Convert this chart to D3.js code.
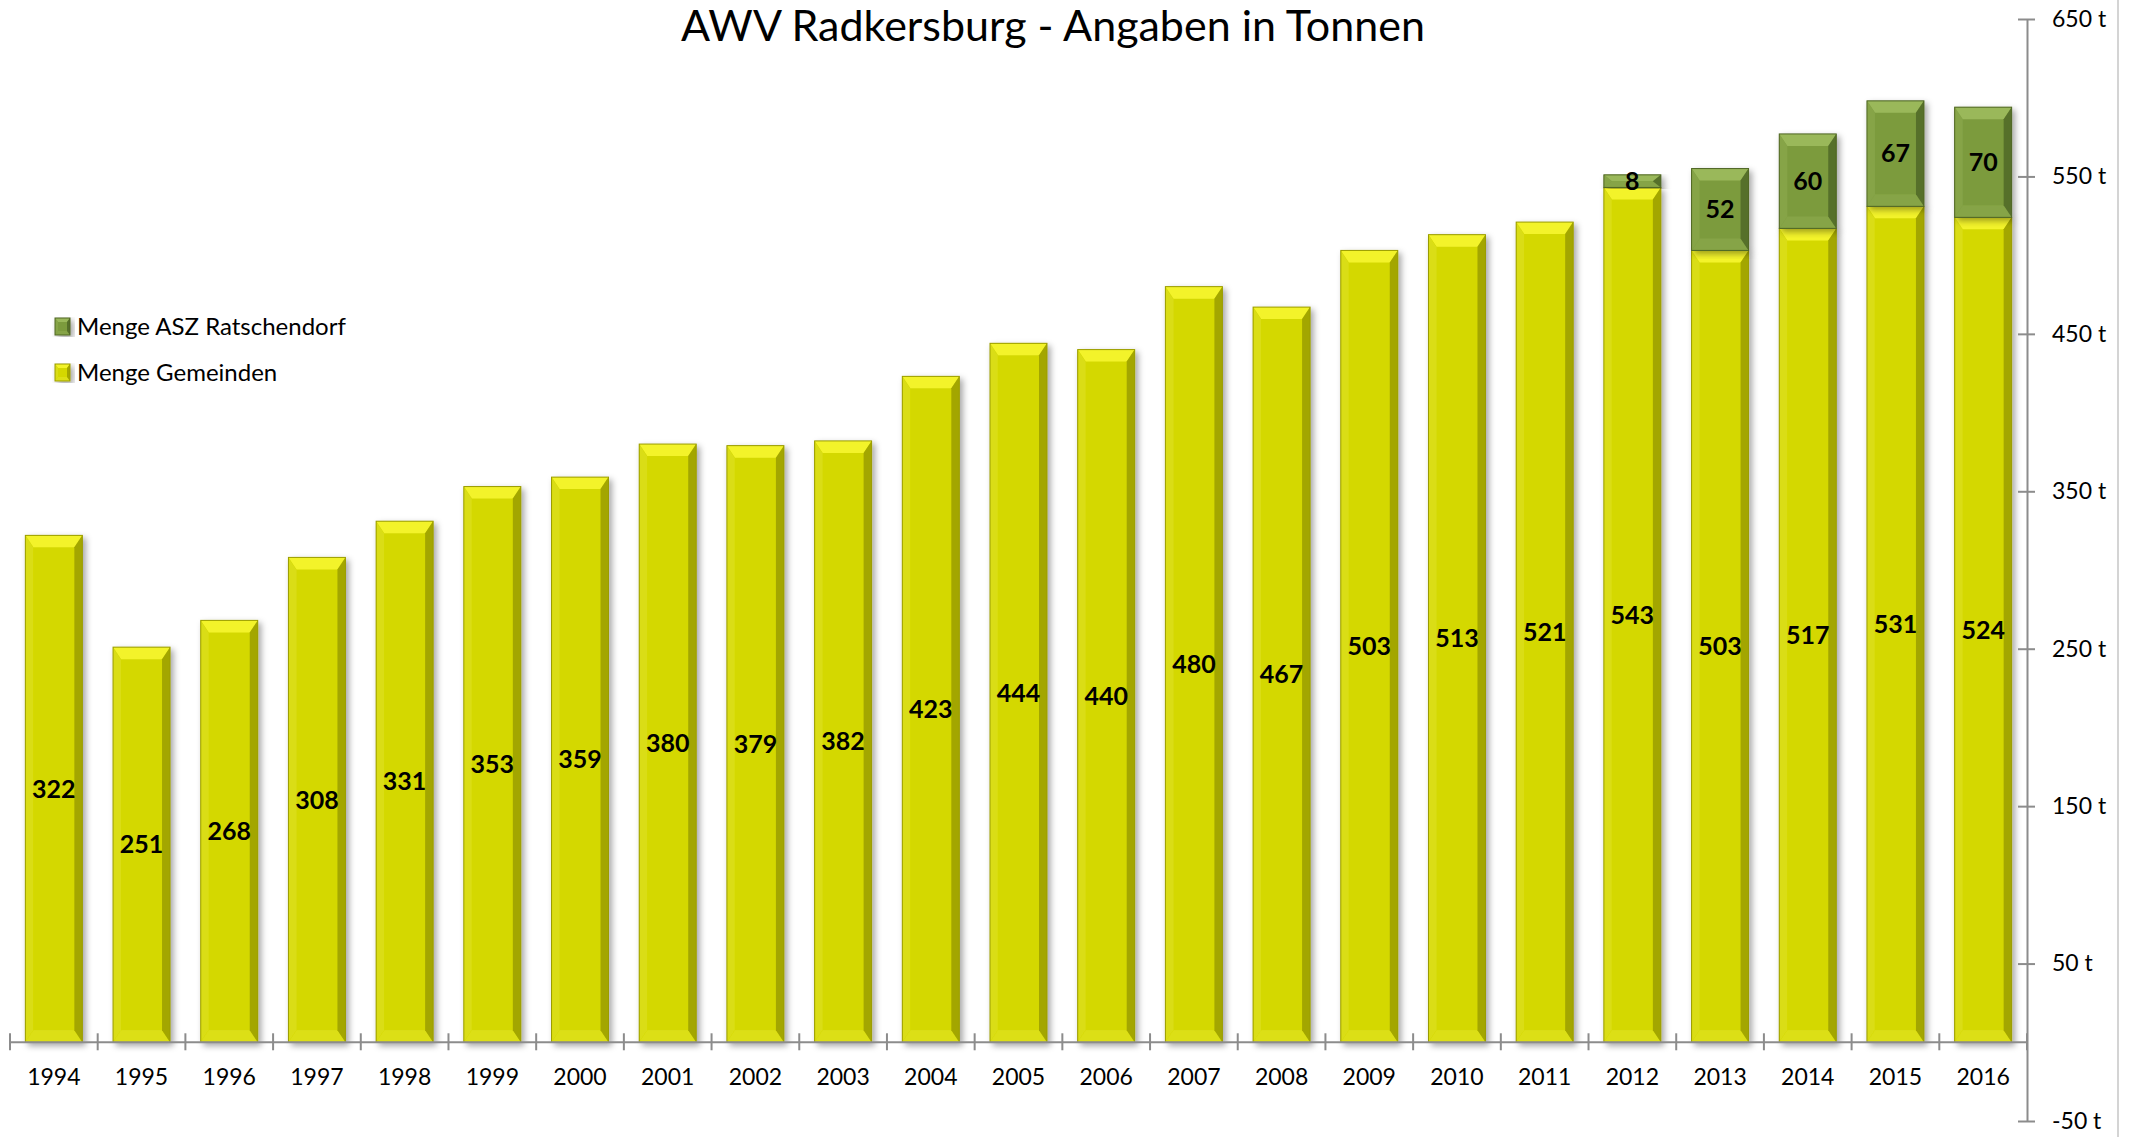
<!DOCTYPE html>
<html lang="de">
<head>
<meta charset="UTF-8">
<title>AWV Radkersburg</title>
<style>
  body { margin: 0; background: #fff; font-family: Lato, "Open Sans", sans-serif; }
  .y-axis text { font-size: 23px; fill: #000; }
  .x-label { font-size: 23px; }
  .value-label { font-size: 25px; font-weight: bold; }
</style>
<script src="https://d3js.org/d3.v7.min.js"></script>
</head>
<body>
<svg id="chart"></svg>
<script>
  // data
  const years = ["1994","1995","1996","1997","1998","1999","2000","2001","2002","2003","2004","2005",
                 "2006","2007","2008","2009","2010","2011","2012","2013","2014","2015","2016"];
  const gemeinden = [322,251,268,308,331,353,359,380,379,382,423,444,440,480,467,503,513,521,543,503,517,531,524];
  const asz = [0,0,0,0,0,0,0,0,0,0,0,0,0,0,0,0,0,0,8,52,60,67,70];
  const seriesKeys = ["gemeinden", "asz"];
  const seriesNames = { gemeinden: "Menge Gemeinden", asz: "Menge ASZ Ratschendorf" };
  const yTicks = [-50,50,150,250,350,450,550,650];

  const W = 2133, H = 1137;
  const plot = { left: 10, right: 2027 };

  // bevel colours: main, top, bottom, left, right, stroke
  const palette = {
    gemeinden: { main: "#d4d800", top: "#f3f32c", bottom: "#dcdf18", left: "#dadd12", right: "#a3a600", stroke: "#9a9c00" },
    asz:       { main: "#7c9b3e", top: "#9ab85a", bottom: "#86a446", left: "#86a447", right: "#566f2a", stroke: "#4f6624" }
  };

  const svg = d3.select("#chart").attr("width", W).attr("height", H);

  const defs = svg.append("defs");
  const f = defs.append("filter").attr("id", "shadow")
    .attr("x", "-20%").attr("y", "-5%").attr("width", "150%").attr("height", "115%");
  f.append("feDropShadow").attr("dx", 3).attr("dy", 3).attr("stdDeviation", 3)
    .attr("flood-color", "#000").attr("flood-opacity", 0.35);

  const x = d3.scaleBand().domain(years).range([plot.left, plot.right])
    .paddingInner(0.35).paddingOuter(0.175);
  const y = d3.scaleLinear().domain([-50, 650]).range([1121, 19]);

  const table = years.map((yr, i) => ({ year: yr, gemeinden: gemeinden[i], asz: asz[i] }));
  const stacked = d3.stack().keys(seriesKeys)(table);

  // outer border on the right
  svg.append("line").attr("x1", 2118).attr("x2", 2118).attr("y1", 0).attr("y2", H)
    .attr("stroke", "#c6c6c6").attr("stroke-width", 1.5);

  function bevelBar(g, x0, y0, w, h, c, bMax = 12, sMax = 8) {
    const b = Math.min(bMax, h / 2, w / 2);
    const s = Math.min(sMax, w / 4);
    const x1 = x0 + w, y1 = y0 + h;
    const bar = g.append("g").attr("filter", "url(#shadow)");
    bar.append("rect").attr("x", x0).attr("y", y0).attr("width", w).attr("height", h).attr("fill", c.main);
    const poly = (pts, fill) => bar.append("polygon").attr("points", pts.map(p => p.join(",")).join(" ")).attr("fill", fill);
    poly([[x0, y0], [x1, y0], [x1 - s, y0 + b], [x0 + s, y0 + b]], c.top);
    poly([[x0, y1], [x1, y1], [x1 - s, y1 - b], [x0 + s, y1 - b]], c.bottom);
    poly([[x0, y0], [x0 + s, y0 + b], [x0 + s, y1 - b], [x0, y1]], c.left);
    poly([[x1, y0], [x1 - s, y0 + b], [x1 - s, y1 - b], [x1, y1]], c.right);
    bar.append("rect").attr("x", x0).attr("y", y0).attr("width", w).attr("height", h)
      .attr("fill", "none").attr("stroke", c.stroke).attr("stroke-width", 1);
  }

  const barsG = svg.append("g");
  stacked.forEach(series => {
    series.forEach((d, i) => {
      if (d[1] - d[0] <= 0) return;
      bevelBar(barsG, x(years[i]), y(d[1]), x.bandwidth(), y(d[0]) - y(d[1]), palette[series.key]);
    });
  });

  // value labels
  stacked.forEach(series => {
    svg.append("g").selectAll("text")
      .data(series.filter(d => d[1] - d[0] > 0))
      .join("text")
      .attr("class", "value-label")
      .attr("x", d => x(d.data.year) + x.bandwidth() / 2)
      .attr("y", d => y((d[0] + d[1]) / 2))
      .attr("dy", "0.35em")
      .attr("text-anchor", "middle")
      .text(d => d[1] - d[0]);
  });

  // x axis line and category ticks
  const y0 = y(0);
  const gap = (x.step() - x.bandwidth()) / 2;
  const xAxisG = svg.append("g");
  xAxisG.append("line").attr("x1", plot.left).attr("x2", plot.right).attr("y1", y0).attr("y2", y0)
    .attr("stroke", "#8c8c8c").attr("stroke-width", 2);
  const boundaries = years.map(yr => x(yr) - gap).concat([x(years[years.length - 1]) + x.bandwidth() + gap]);
  xAxisG.selectAll(".xt").data(boundaries).join("line")
    .attr("x1", d => d).attr("x2", d => d).attr("y1", y0 - 9).attr("y2", y0 + 8)
    .attr("stroke", "#8c8c8c").attr("stroke-width", 2);
  xAxisG.selectAll(".x-label").data(years).join("text")
    .attr("class", "x-label")
    .attr("x", d => x(d) + x.bandwidth() / 2)
    .attr("y", 1085)
    .attr("text-anchor", "middle")
    .text(d => d);

  // right value axis
  const yAxis = d3.axisRight(y).tickValues(yTicks).tickFormat(d => d + " t").tickSizeOuter(0).tickPadding(16);
  const yAxisG = svg.append("g").attr("class", "y-axis")
    .attr("transform", `translate(${plot.right},0)`)
    .call(yAxis);
  yAxisG.select(".domain").attr("stroke", "#8c8c8c").attr("stroke-width", 2);
  yAxisG.selectAll(".tick line").attr("x1", -9).attr("x2", 8).attr("stroke", "#8c8c8c").attr("stroke-width", 2);
  yAxisG.selectAll(".tick text").attr("x", 25).attr("font-family", "Lato, sans-serif");

  // title
  svg.append("text")
    .attr("x", 1053).attr("y", 41)
    .attr("text-anchor", "middle")
    .attr("font-size", 43)
    .text("AWV Radkersburg - Angaben in Tonnen");

  // legend
  const legendKeys = ["asz", "gemeinden"];
  const legend = svg.append("g");
  legendKeys.forEach((k, i) => {
    const ly = 318 + i * 46;
    bevelBar(legend, 55, ly, 15, 17, palette[k], 4, 3);
    legend.append("text").attr("x", 77).attr("y", ly + 17)
      .attr("font-size", 24).text(seriesNames[k]);
  });
</script>
</body>
</html>
